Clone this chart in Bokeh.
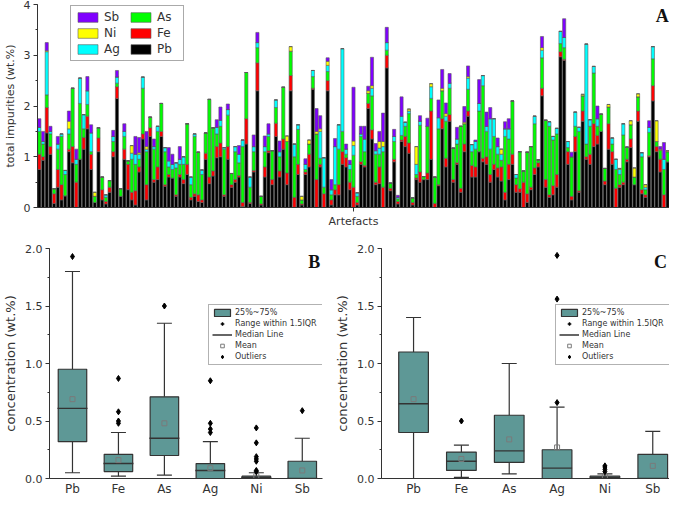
import math
from bokeh.plotting import figure
from bokeh.models import (ColumnDataSource, Legend, LegendItem, Label, FixedTicker,
                          SingleIntervalTicker, NumeralTickFormatter)
from bokeh.layouts import column, row
from bokeh.embed import file_html
from bokeh.resources import INLINE

FONT = "DejaVu Sans"
TXT = "#333333"
EDGE = "#333333"
TEAL = "#5e9896"

# ---------------- Panel A data (stacked impurities per artefact, wt.%) ----------------
pb = [.75,.93,1.47,1.05,.08,.40,.15,.23,1.10,.88,
      0,.95,1.15,1.55,.75,.10,1.10,.15,.07,.30,
      1.00,2.15,.22,.95,.35,.15,.05,.70,1.35,.15,
      1.40,.50,.55,1.40,.42,.60,.58,.22,.60,.47,
      .65,.15,.22,.12,.10,.95,.47,.62,.98,1.00,
      .22,.95,.40,.50,.60,.02,1.25,.08,.70,2.30,
      .05,.60,1.08,.45,1.40,.60,1.15,.45,2.30,0,
      .65,.05,.65,.80,2.33,0,.80,0,2.30,.05,
      .25,.25,.85,.80,.35,0,.05,.85,.80,1.95,
      1.35,.45,.47,0,2.75,.33,.90,.07,1.30,1.20,
      1.07,.05,.55,.50,.55,.55,.95,0,.43,1.55,
      .80,1.70,.50,.85,.30,1.10,1.80,.60,.60,1.10,
      .90,.85,.50,.75,.60,.52,.15,.55,.85,.30,
      .30,0,.10,.35,.65,.80,2.20,.40,.20,.25,
      .40,2.97,2.90,.85,.15,1.10,.30,1.70,.95,.85,
      1.20,1.25,1.50,.45,1.15,.85,0,.40,.45,.90,
      1.18,.45,1.70,.27,.20,1.00,2.10,1.10,.70,0,.90]
fe = [.30,.07,.50,.15,.19,.35,.30,0,.05,.32,
      .50,0,.23,.25,.30,0,.27,.20,.05,.10,
      .10,.23,0,.20,.50,.15,.28,.10,.10,.30,
      .17,.05,.25,.10,.03,.05,0,.03,.05,.08,
      .20,.05,.05,.13,.05,.12,.13,.10,.22,.27,
      .03,.25,.05,.05,.03,.08,.50,.02,.03,.55,
      .02,.20,.04,.10,.26,.12,.20,.23,.30,.20,
      .20,.02,.05,.25,.02,.55,.05,.27,.20,.10,
      .10,.20,.25,.18,.15,.40,.05,.05,.03,.10,
      .18,.05,.33,.40,.25,.05,.05,.05,.03,.20,
      .20,.05,.03,.20,0,.13,.95,.08,.02,.20,
      .17,.13,.05,.03,.08,.15,.10,.23,.20,0,
      .07,.15,.15,.10,.18,.28,.15,.30,.20,.15,
      .07,.50,.17,.05,.13,.08,.15,.15,.05,.18,
      .25,.10,.02,.25,.07,.30,.03,.20,.05,.20,
      .45,.17,0,.07,.50,.25,.38,.05,.05,.05,
      .17,0,.20,.08,.05,.02,.30,.10,.25,.25,0]
as_ = [.45,.25,.25,.25,.10,.40,.95,.42,.30,1.15,
       .35,1.10,.17,.23,.05,.12,.20,.25,.08,.13,
       .20,.07,.15,.25,.07,.65,.52,.15,.90,.65,
       .21,.60,.70,.55,.65,.15,.17,.53,.20,.30,
       .80,.25,1.13,.84,.50,.40,1.53,.85,.25,.33,
       .90,.62,.22,.55,.25,1.10,.91,.30,.37,.30,
       .15,.30,.28,.57,.31,.28,1.02,.62,.48,.80,
       .69,.08,.05,.20,.23,.90,.12,.13,.18,.10,
       .10,.70,.40,.07,.25,.63,.12,.50,.27,.20,
       .67,.55,.25,.70,.10,.10,.35,.05,.09,.20,
       .58,.09,.07,.92,.06,.92,.25,.52,1.10,.55,
       .73,.52,.62,.37,1.22,.40,.43,.27,.35,.80,
       1.43,.50,.50,.55,.27,.13,1.10,.50,1.05,.13,
       .73,.22,.82,.80,.87,.06,.60,1.17,1.35,.90,
       .80,.16,.23,.08,.78,.20,1.17,.30,.25,.55,
       1.00,.18,.34,.25,.33,.15,.37,.20,.93,.24,
       .28,.15,.28,.65,.10,.46,.53,.10,.18,.50,.20]
ag = [.08,.05,.85,.05,0,.10,.05,.08,.10,0,
      .10,.50,.28,.27,.37,0,0,0,.05,0,
      .10,.12,0,.10,0,.12,.20,.10,.22,.05,
      0,.05,.10,0,.08,.12,.10,.10,.10,.15,
      0,.15,.05,0,.09,0,0,0,.13,.12,
      .03,.11,0,.10,.17,.13,0,.20,.10,.10,
      0,.10,.05,0,.15,.10,0,0,0,.25,
      .09,0,.10,0,.12,0,.53,.58,.12,.10,
      .75,.48,1.63,.10,.10,.19,.07,.05,.25,0,
      .15,.07,.12,.10,.15,0,.10,.03,.38,.08,
      .05,0,.20,.08,0,0,.23,0,.22,0,
      .10,.10,0,.10,0,0,.22,.14,.15,.15,
      .20,.10,.60,.35,.15,.12,.15,.20,0,.07,
      0,0,0,0,.15,0,.15,0,.09,.07,
      .11,.24,.20,.12,0,.28,.08,0,1.97,.13,
      .13,.15,0,0,0,.12,.20,.10,.22,0,
      0,0,0,.08,.05,.10,.24,0,0,.20,0]
ni = [0,0,.02,0,0,0,0,0,.15,0,
      0,0,0,0,0,.08,0,0,0,0,
      0,0,0,0,0,.15,0,.03,0,.05,
      0,0,0,0,0,0,0,0,0,0,
      0,0,0,0,0,0,0,0,0,0,
      0,0,0,0,0,0,0,0,0,0,
      0,0,0,0,0,0,0,.11,.09,0,
      0,.07,0,.08,0,.05,.05,0,.08,0,
      0,0,0,0,0,.09,0,0,0,.05,
      .05,0,.13,.10,0,0,0,0,0,0,
      .04,0,.35,0,0,0,.06,0,0,.05,
      .05,0,0,0,0,.03,.03,0,0,0,
      0,0,0,0,0,.10,0,0,0,0,
      0,0,0,0,0,0,.05,0,0,0,
      0,0,0,0,0,0,0,.03,0,0,
      0,0,0,0,.05,0,0,.02,0,0,
      .08,.18,.06,0,.05,0,0,.41,.02,0,.02]
sb = [.17,.20,.16,.10,0,.15,0,0,.20,0,
      .20,0,0,.28,.16,0,0,0,0,0,
      .12,.13,0,.15,0,0,.35,.30,0,.30,
      0,.15,0,0,0,.26,.20,0,.25,0,
      0,0,0,0,0,0,0,0,.15,.26,
      0,.11,0,0,.17,0,0,0,.23,.20,
      0,.21,.20,0,0,.21,0,0,0,0,
      0,0,.11,0,0,.45,.26,0,.07,.20,
      .16,0,0,.10,.08,1.06,0,.15,.25,.09,
      .56,.14,.20,.56,.30,0,.14,.04,.38,0,
      0,0,0,.11,0,.16,0,0,.35,.37,
      .21,.19,0,.23,0,.31,.21,0,.03,.47,
      0,.28,.22,0,.17,0,.14,.20,0,0,
      0,0,0,0,0,0,.22,0,0,0,
      0,0,.37,0,.09,0,0,0,0,0,
      0,.25,0,0,0,0,0,0,0,0,
      0,0,0,0,0,.13,0,0,.05,.33,0]

elements = ["Pb", "Fe", "As", "Ag", "Ni", "Sb"]
legend_order = ["Sb", "Ni", "Ag", "As", "Fe", "Pb"]
colors = {"Pb": "#000000", "Fe": "#ff0000", "As": "#00ff00",
          "Ag": "#00ffff", "Ni": "#ffff00", "Sb": "#8000ff"}

n = len(pb)
assert all(len(a) == n for a in (fe, as_, ag, ni, sb)), [len(a) for a in (pb, fe, as_, ag, ni, sb)]

# ---------------- Panels B and C data (box statistics, wt.%) ----------------
categories = ["Pb", "Fe", "As", "Ag", "Ni", "Sb"]

b_q1 = [0.32, 0.06, 0.20, 0.00, 0.00, 0.00]
b_med = [0.61, 0.13, 0.35, 0.07, 0.01, 0.00]
b_q3 = [0.95, 0.21, 0.71, 0.13, 0.02, 0.15]
b_lo = [0.05, 0.02, 0.03, 0.00, 0.00, 0.00]
b_hi = [1.80, 0.40, 1.35, 0.32, 0.05, 0.35]
b_mean = [0.69, 0.16, 0.48, 0.09, 0.02, 0.07]
b_out = {"Pb": [1.93], "Fe": [0.48, 0.50, 0.58, 0.87], "As": [1.50],
         "Ag": [0.40, 0.43, 0.48, 0.85],
         "Ni": [0.06, 0.07, 0.15, 0.17, 0.19, 0.31, 0.44], "Sb": [0.59]}

c_q1 = [0.40, 0.07, 0.14, 0.00, 0.00, 0.00]
c_med = [0.65, 0.15, 0.24, 0.09, 0.01, 0.00]
c_q3 = [1.10, 0.23, 0.55, 0.25, 0.02, 0.21]
c_lo = [0.00, 0.01, 0.04, 0.00, 0.00, 0.00]
c_hi = [1.40, 0.29, 1.00, 0.62, 0.04, 0.41]
c_mean = [0.69, 0.17, 0.34, 0.27, 0.02, 0.11]
c_out = {"Fe": [0.50], "Ag": [0.66, 1.56, 1.94], "Ni": [0.06, 0.08, 0.10, 0.11]}


def style_axes(p):
    for ax in (p.xaxis[0], p.yaxis[0]):
        ax.axis_line_color = EDGE
        ax.major_tick_line_color = EDGE
        ax.minor_tick_line_color = EDGE
        ax.major_label_text_font = FONT
        ax.major_label_text_color = TXT
        ax.axis_label_text_font = FONT
        ax.axis_label_text_color = TXT
        ax.axis_label_text_font_style = "normal"
        ax.major_tick_in = 0
        ax.major_tick_out = 4
        ax.minor_tick_in = 0
        ax.minor_tick_out = 2


# ---------------- Panel A ----------------
src = ColumnDataSource(dict(idx=list(range(1, n + 1)), Pb=pb, Fe=fe, As=as_, Ag=ag, Ni=ni, Sb=sb))

TOP_H = 230
top = figure(width=669, height=TOP_H, x_range=(0.5, n + 0.5), y_range=(0, 4),
             output_backend="svg", toolbar_location=None,
             min_border_left=32, min_border_right=0, min_border_top=4, min_border_bottom=20)
top.outline_line_color = None
top.grid.visible = False
rs = top.vbar_stack(elements, x="idx", width=0.85, source=src,
                    fill_color=[colors[e] for e in elements],
                    line_color="#5a5a5a", line_width=0.6)
style_axes(top)
top.yaxis.ticker = SingleIntervalTicker(interval=1, num_minor_ticks=2)
top.yaxis.axis_label = "total impurities (wt.%)"
top.yaxis.axis_label_text_font_size = "11px"
top.yaxis.major_label_text_font_size = "11px"
top.yaxis.axis_label_standoff = 4
top.yaxis.major_label_standoff = 3
mid = (n + 1) // 2
top.xaxis.ticker = FixedTicker(ticks=[mid])
top.xaxis.major_label_overrides = {mid: ""}
top.xaxis.major_label_text_font_size = "1px"
top.xaxis.axis_label = "Artefacts"
top.xaxis.axis_label_text_font_size = "11px"
top.xaxis.axis_label_standoff = 3

top_frame_h = TOP_H - 4 - 20
leg = Legend(items=[LegendItem(label=e, renderers=[rs[elements.index(e)]]) for e in legend_order],
             location=(33, top_frame_h - 60), nrows=3, glyph_width=25, glyph_height=12,
             label_height=12, label_width=22, spacing=2, padding=4, margin=0,
             label_text_font=FONT, label_text_font_size="12px", label_text_color=TXT,
             label_standoff=4, border_line_color="#555555", background_fill_alpha=1)
top.add_layout(leg)
top.add_layout(Label(x=n + 0.3, y=3.97, text="A", text_align="right", text_baseline="top",
                     text_font="Liberation Serif", text_font_style="bold",
                     text_font_size="18px", text_color="#111111"))


# ---------------- Panels B / C ----------------
BOT_H = 268


def box_panel(q1, med, q3, lo, hi, mean, outliers, xr, width, bl, br, letter, legloc):
    p = figure(width=width, height=BOT_H, x_range=xr, y_range=(0, 2.0),
               output_backend="svg", toolbar_location=None,
               min_border_left=bl, min_border_right=br, min_border_top=18, min_border_bottom=18)
    p.outline_line_color = None
    p.grid.visible = False
    xs = [i + 0.5 for i in range(len(categories))]
    s = ColumnDataSource(dict(x=xs, q1=q1, med=med, q3=q3, lo=lo, hi=hi, mean=mean))
    p.segment(x0="x", y0="q3", x1="x", y1="hi", source=s, line_color=EDGE, line_width=1.2)
    p.segment(x0="x", y0="q1", x1="x", y1="lo", source=s, line_color=EDGE, line_width=1.2)
    p.scatter(x="x", y="hi", source=s, marker="dash", size=15, line_color=EDGE, line_width=1.2)
    p.scatter(x="x", y="lo", source=s, marker="dash", size=15, line_color=EDGE, line_width=1.2)
    box = p.vbar(x="x", bottom="q1", top="q3", width=0.62, source=s,
                 fill_color=TEAL, line_color=EDGE, line_width=1.2)
    p.scatter(x="x", y="med", source=s, marker="dash", size=30, line_color=EDGE, line_width=1.4)
    mean_r = p.scatter(x="x", y="mean", source=s, marker="square", size=5,
                       fill_color=None, line_color="#7a7a7a", line_width=1)
    ox, oy = [], []
    for i, c in enumerate(categories):
        for v in outliers.get(c, []):
            ox.append(xs[i])
            oy.append(v)
    out_r = p.scatter(ox, oy, marker="diamond", size=6, color="#000000")
    # legend-only proxies, placed below the visible y range
    rng_r = p.scatter([xs[0]], [-1.0], marker="cross", size=11,
                      line_color="#000000", line_width=1.5)
    med_r = p.line([xs[0], xs[1]], [-1.0, -1.0], line_color=EDGE, line_width=1.5)

    style_axes(p)
    p.yaxis.ticker = SingleIntervalTicker(interval=0.5, num_minor_ticks=2)
    p.yaxis.formatter = NumeralTickFormatter(format="0.0")
    p.yaxis.axis_label = "concentration (wt.%)"
    p.yaxis.axis_label_text_font_size = "13px"
    p.yaxis.major_label_text_font_size = "11px"
    p.yaxis.axis_label_standoff = 4
    p.yaxis.major_label_standoff = 3
    p.xaxis.ticker = FixedTicker(ticks=xs)
    p.xaxis.major_label_overrides = {x: c for x, c in zip(xs, categories)}
    p.xaxis.major_label_text_font_size = "12px"
    p.xaxis.major_tick_out = 0
    p.xaxis.major_label_standoff = 3

    lg = Legend(items=[LegendItem(label="25%~75%", renderers=[box]),
                       LegendItem(label="Range within 1.5IQR", renderers=[rng_r]),
                       LegendItem(label="Median Line", renderers=[med_r]),
                       LegendItem(label="Mean", renderers=[mean_r]),
                       LegendItem(label="Outliers", renderers=[out_r])],
                location=legloc, glyph_width=20, glyph_height=9, label_height=9,
                label_width=86, spacing=2, padding=3, margin=0, label_standoff=3,
                label_text_font=FONT, label_text_font_size="8px", label_text_color=TXT,
                border_line_color="#666666", background_fill_alpha=1)
    p.add_layout(lg)
    p.add_layout(Label(x=xr[1] - 0.05, y=1.97, text=letter, text_align="right", text_baseline="top",
                       text_font="Liberation Serif", text_font_style="bold",
                       text_font_size="18px", text_color="#111111"))
    return p


pB = box_panel(b_q1, b_med, b_q3, b_lo, b_hi, b_mean, b_out, (0.0, 5.94), 332, 32, 10, "B", (159, 113))
pC = box_panel(c_q1, c_med, c_q3, c_lo, c_hi, c_mean, c_out, (-0.17, 5.85), 337, 45, 0, "C", (174, 113))

layout = column(top, row(pB, pC))
open("out.html", "w").write(file_html(layout, INLINE))
